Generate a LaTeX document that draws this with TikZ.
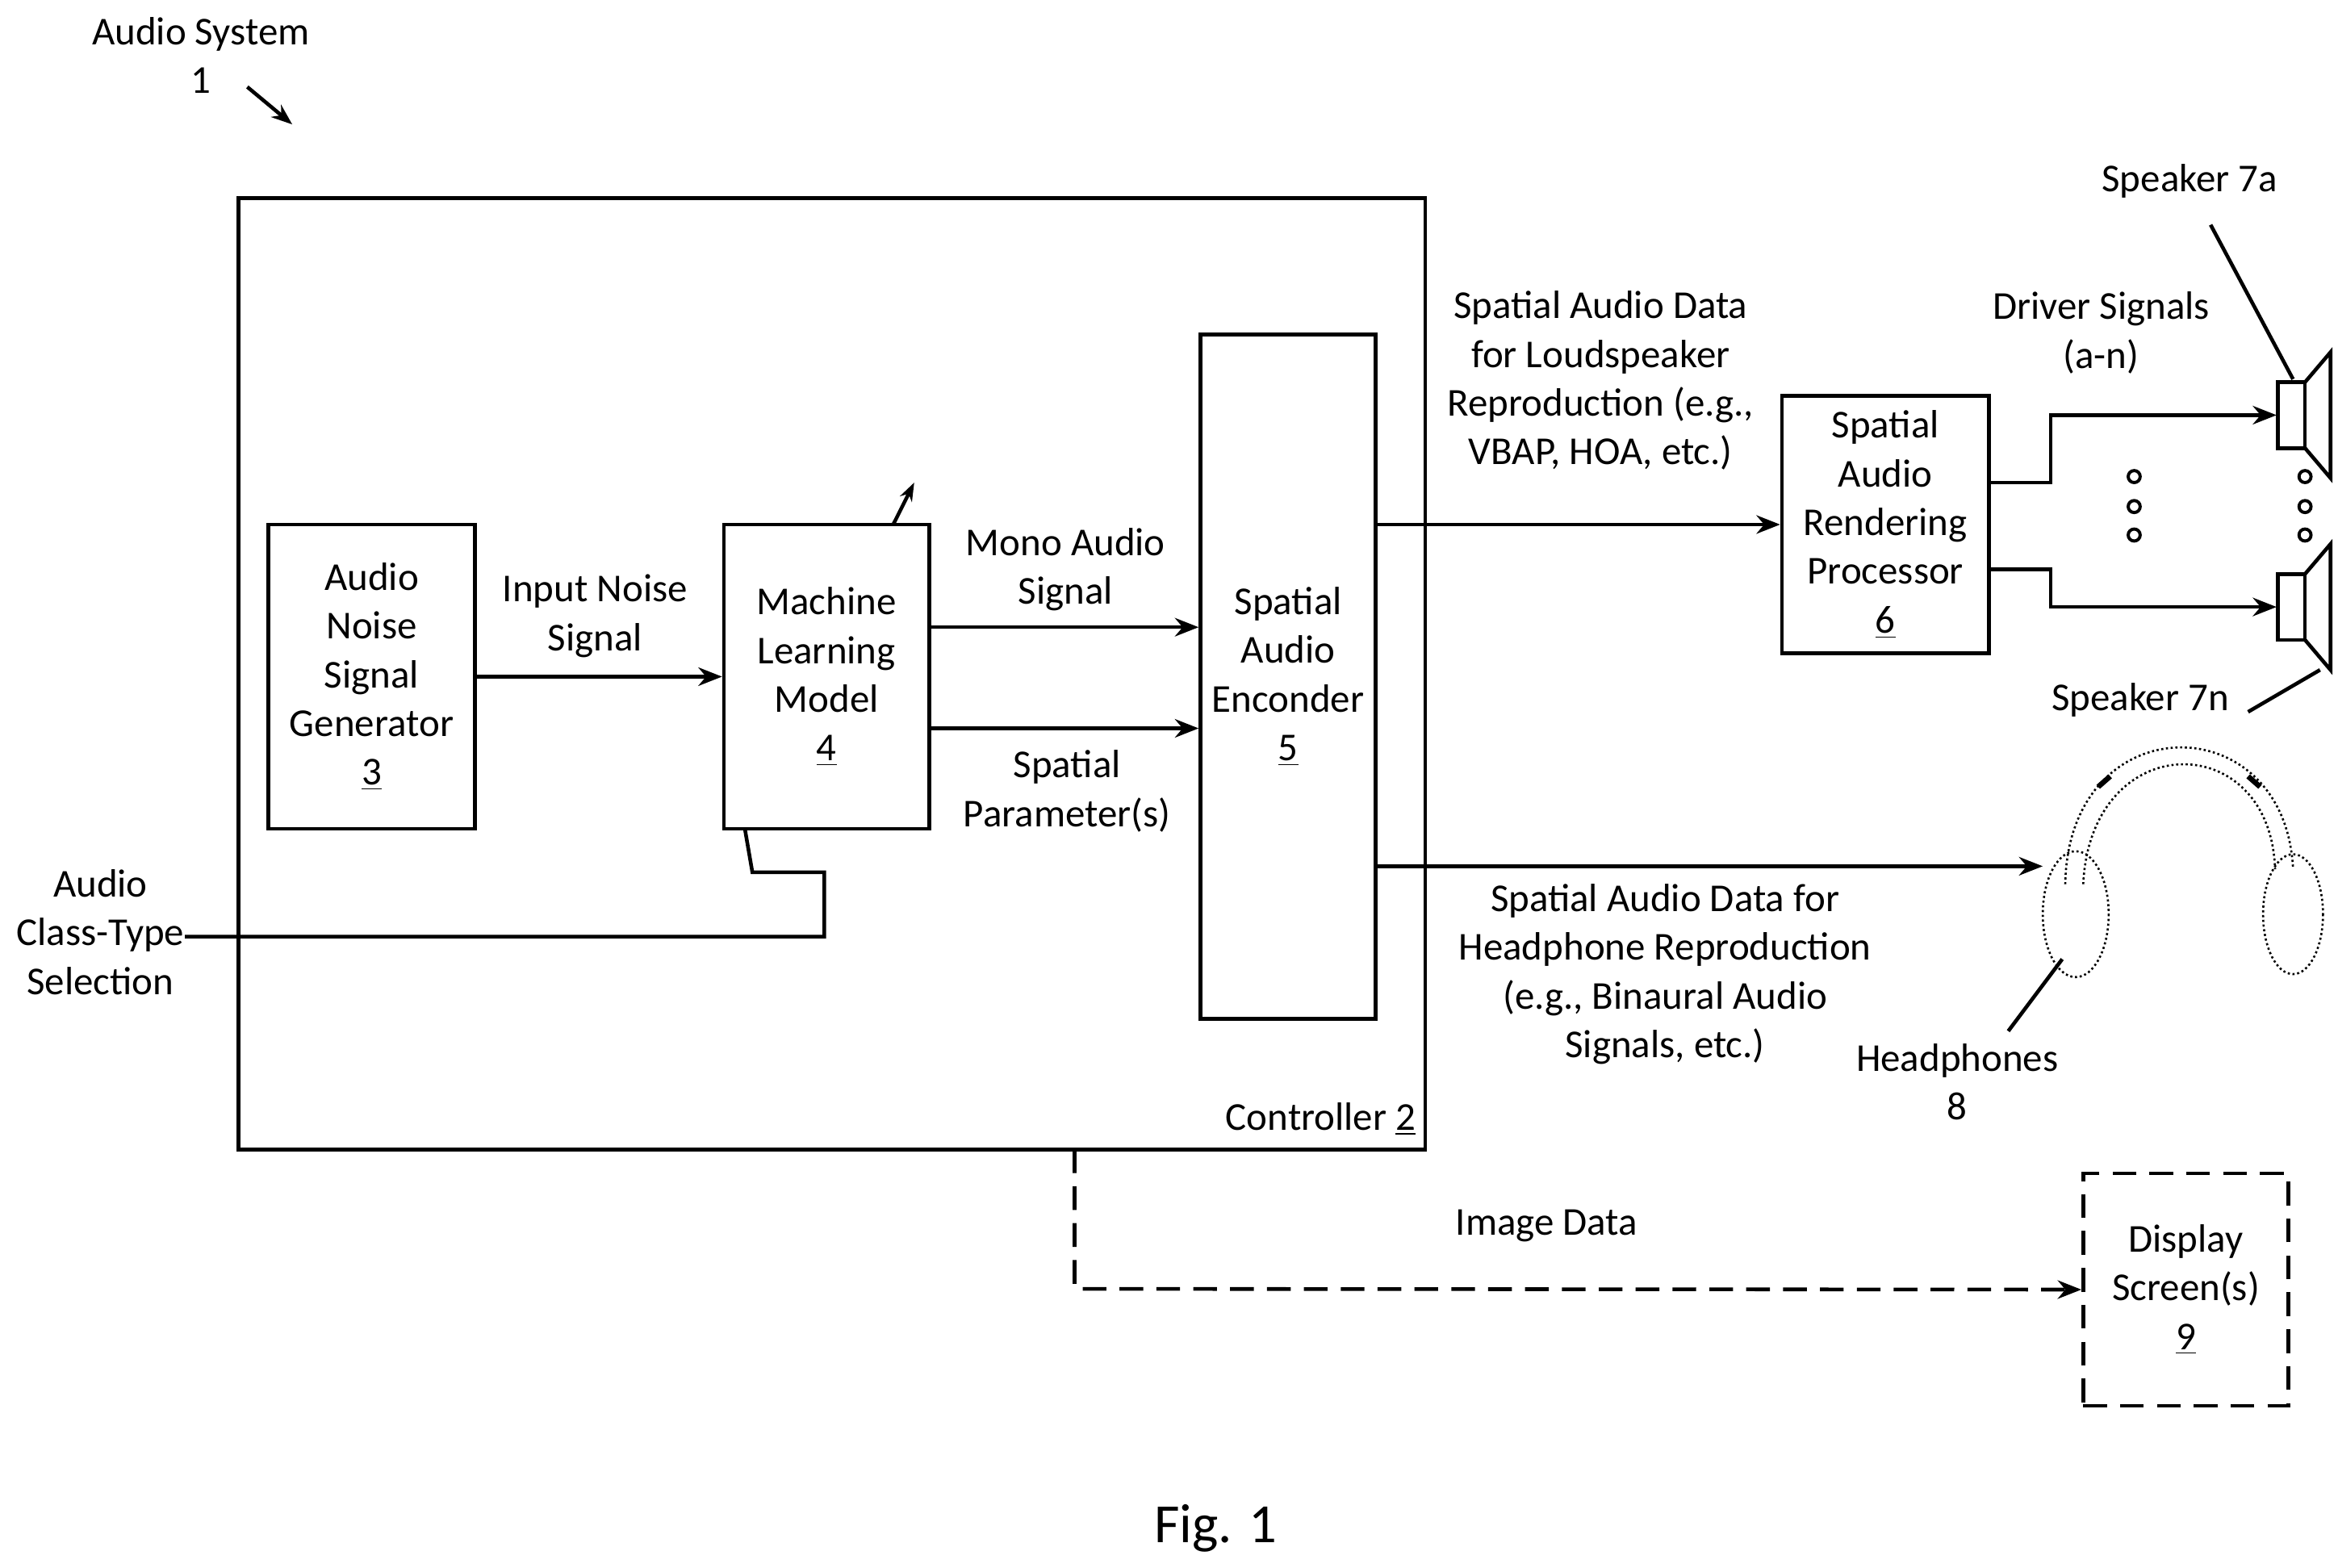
\documentclass[tikz,border=0pt]{standalone}
\usepackage{fontspec}
\setmainfont{Carlito}
\usetikzlibrary{arrows.meta}
\usetikzlibrary{positioning}
\begin{document}
\begin{tikzpicture}[x=0.02cm,y=-0.02cm,
			blk/.style={rectangle,draw,line width=1.4pt,align=center,font=\fontsize{15}{18.5}\selectfont},
			lbl/.style={align=center,font=\fontsize{15}{18.5}\selectfont,inner sep=0pt},
			sig/.style={line width=1.4pt,-{Stealth[length=9pt,width=7pt]}},
			wire/.style={line width=1.4pt},
			dsh/.style={line width=1.4pt,dash pattern=on 9pt off 5pt},
			]
			\useasboundingbox (0,0) rectangle (1560,1046);
			
			%boxes
			\node[blk,minimum width=15.84cm,minimum height=12.7cm] (ctrl) at (555,449.5) {};
			\node[lbl,anchor=south east] (ctrllbl) at (945,758) {Controller \underline{2}};
			\node[blk,minimum width=2.76cm,minimum height=4.06cm] (gen) at (248,451.5) {Audio\\Noise\\Signal\\Generator\\\underline{3}};
			\node[blk,minimum width=2.74cm,minimum height=4.06cm] (ml) at (551.5,451.5) {Machine\\Learning\\Model\\\underline{4}};
			\node[blk,minimum width=2.34cm,minimum height=9.14cm] (enc) at (859.5,451.5) {Spatial\\Audio\\Enconder\\\underline{5}};
			\node[blk,minimum width=2.76cm,minimum height=3.44cm] (rend) at (1258,350) {Spatial\\Audio\\Rendering\\Processor\\\underline{6}};
			\node[blk,dsh,minimum width=2.74cm,minimum height=3.1cm] (disp) at (1458.5,860.5) {Display\\Screen(s)\\\underline{9}};
			
			%labels
			\node[lbl] (sys) at (134,37) {Audio System\\1};
			\node[lbl] (noise) at (397,411) {Input Noise\\Signal};
			\node[lbl] (mono) at (711,380) {Mono Audio\\Signal};
			\node[lbl] (param) at (712,528) {Spatial\\Parameter(s)};
			\node[lbl] (cls) at (67,622) {Audio\\Class-Type\\Selection};
			\node[lbl] (lsdata) at (1068,254) {Spatial Audio Data\\for Loudspeaker\\Reproduction (e.g.,\\VBAP, HOA, etc.)};
			\node[lbl] (drv) at (1402,222) {Driver Signals\\(a-n)};
			\node[lbl] (spka) at (1461,121) {Speaker 7a};
			\node[lbl] (spkn) at (1428,467) {Speaker 7n};
			\node[lbl] (hpdata) at (1111,650) {Spatial Audio Data for\\Headphone Reproduction\\(e.g., Binaural Audio\\Signals, etc.)};
			\node[lbl] (hplbl) at (1306,722) {Headphones\\8};
			\node[lbl] (img) at (1032,818) {Image Data};
			\node[lbl,font=\fontsize{21}{25}\selectfont] (fig) at (811,1020) {Fig. 1};
			
			%coordinates
			\coordinate (spkA) at (1519,277);
			\coordinate (spkN) at (1519,405);
			\coordinate (hp) at (1363,578);
			
			%signals
			\draw[line width=1.4pt,-{Stealth[length=8pt,width=6pt]}] (165,58) -- (195,83);
			\draw[sig] (gen) -- (ml);
			\draw[sig] ([yshift=0.66cm]ml.east) -- ([yshift=0.66cm]enc.west);
			\draw[sig] ([yshift=-0.69cm]ml.east) -- ([yshift=-0.69cm]enc.west);
			\draw[wire,-{Stealth[length=7pt,width=5pt]}] (596,350) -- (610,322);
			\draw[wire] (cls.east |- 0,625) -- (550,625) -- (550,582) -- (502,582) -- (497,553);
			\draw[sig] (enc.east |- rend) -- (rend);
			\draw[sig] ([yshift=0.56cm]rend.east) -- ++(40,0) |- (spkA);
			\draw[sig] ([yshift=-0.6cm]rend.east) -- ++(40,0) |- (spkN);
			\draw[sig] (enc.east |- hp) -- (hp);
			\draw[dsh,-{Stealth[length=9pt,width=7pt]}] (717,767) -- (717,860) -- (disp.west);
			
			%dots
			\foreach \y in {318,338,357}
			{
				\draw[line width=1.2pt] (1424,\y) circle (4);
				\draw[line width=1.2pt] (1538,\y) circle (4);
			}
			
			%speakers
			\foreach \c in {277,405}
			{
				\draw[line width=1.4pt] (1520,\c-22) rectangle (1538,\c+22);
				\draw[line width=1.4pt] (1538,\c-22) -- (1555,\c-42) -- (1555,\c+42) -- (1538,\c+22);
			}
			\draw[wire] (1475,150) -- (1530,253);
			\draw[wire] (1500,475) -- (1548,447);
			
			%headphones
			\draw[line width=0.8pt,densely dotted] (1378,590) .. controls (1380,470) and (1525,470) .. (1530,580);
			\draw[line width=0.8pt,densely dotted] (1390,590) .. controls (1395,485) and (1515,485) .. (1518,580);
			\draw[line width=2pt] (1400,525) -- (1408,518);
			\draw[line width=2pt] (1500,518) -- (1508,525);
			\draw[line width=0.8pt,densely dotted] (1385,610) ellipse (22 and 42);
			\draw[line width=0.8pt,densely dotted] (1530,610) ellipse (20 and 40);
			\draw[wire] (1340,688) -- (1376,640);
		
	\end{tikzpicture}
\end{document}
